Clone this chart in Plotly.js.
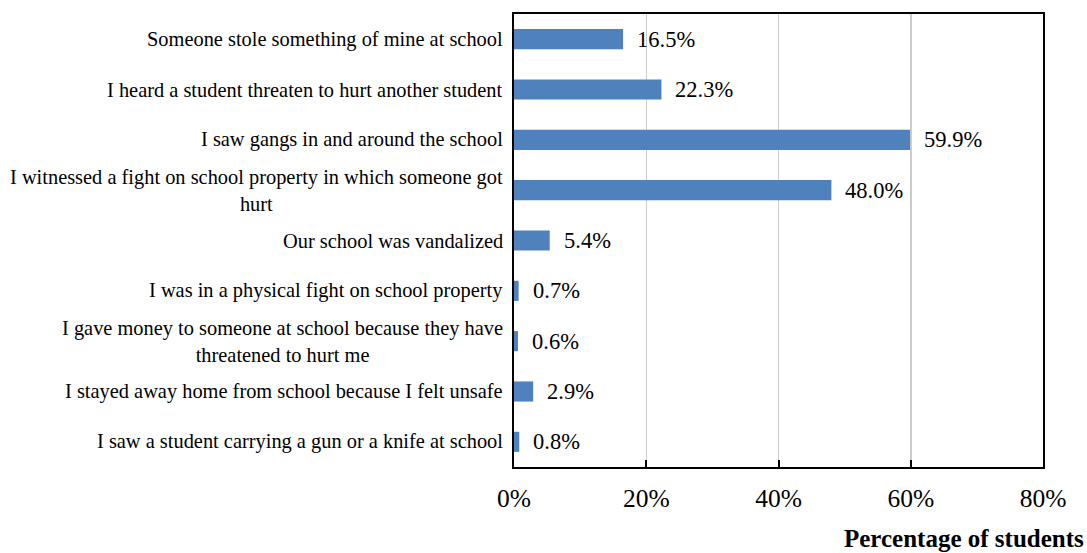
<!DOCTYPE html>
<html>
<head>
<meta charset="utf-8">
<script src="https://cdn.plot.ly/plotly-3.0.1.min.js"></script>
<style>html,body{margin:0;padding:0;background:#fff;}#chart{width:1087px;height:553px;}</style>
</head>
<body>
<div id="chart"></div>
<script>
const categories = [
  "Someone stole something of mine at school",
  "I heard a student threaten to hurt another student",
  "I saw gangs in and around the school",
  "I witnessed a fight on school property in which someone got<br>hurt",
  "Our school was vandalized",
  "I was in a physical fight on school property",
  "I gave money to someone at school because they have<br>threatened to hurt me",
  "I stayed away home from school because I felt unsafe",
  "I saw a student carrying a gun or a knife at school"
];
const values = [16.5, 22.3, 59.9, 48.0, 5.4, 0.7, 0.6, 2.9, 0.8];
const valueLabels = ["16.5%", "22.3%", "59.9%", "48.0%", "5.4%", "0.7%", "0.6%", "2.9%", "0.8%"];
const tickValues = [0, 20, 40, 60, 80];
const tickLabels = ["0%", "20%", "40%", "60%", "80%"];
const xTitle = "Percentage of students";

const FONT = "'Times New Roman', 'Liberation Serif', serif";
const ids = categories.map((c, i) => "c" + i);

const annotations = [];
categories.forEach((c, i) => {
  annotations.push({
    xref: "paper", yref: "y", x: 0, y: ids[i], xanchor: "right", yanchor: "middle",
    xshift: -9, text: c, align: "center", showarrow: false,
    font: {family: FONT, size: 20.4, color: "#000"}
  });
  annotations.push({
    xref: "x", yref: "y", x: values[i], y: ids[i], xanchor: "left", yanchor: "middle",
    xshift: 12, text: valueLabels[i], showarrow: false,
    font: {family: FONT, size: 22.5, color: "#000"}
  });
});
annotations.push({
  xref: "paper", yref: "paper", x: 1, y: 0, xanchor: "right", yanchor: "middle",
  xshift: 43, yshift: -71, text: "<b>" + xTitle + "</b>", showarrow: false,
  font: {family: FONT, size: 25, color: "#000"}
});

const trace = {
  type: "bar", orientation: "h",
  x: values, y: ids,
  width: 0.4,
  marker: {color: "#4F81BD", line: {width: 0}},
  hoverinfo: "skip"
};

const layout = {
  width: 1087, height: 553,
  margin: {l: 514, r: 44, t: 14, b: 86, pad: 0},
  paper_bgcolor: "#fff", plot_bgcolor: "#fff",
  showlegend: false,
  font: {family: FONT, color: "#000"},
  xaxis: {
    range: [0, 80], tickvals: tickValues, ticktext: tickLabels,
    showgrid: true, gridcolor: "#cccccc", gridwidth: 1.5,
    zeroline: false, showline: true, mirror: true, linecolor: "#000", linewidth: 2,
    ticks: "inside", ticklen: 7, tickwidth: 2, tickcolor: "#000",
    ticklabelstandoff: 7,
    tickfont: {family: FONT, size: 25.5, color: "#000"},
    fixedrange: true
  },
  yaxis: {
    type: "category", categoryorder: "array", categoryarray: ids,
    autorange: "reversed",
    showticklabels: false, showgrid: false, zeroline: false,
    showline: true, mirror: true, linecolor: "#000", linewidth: 2,
    ticks: "", fixedrange: true
  },
  annotations: annotations
};

Plotly.newPlot("chart", [trace], layout, {displayModeBar: false, staticPlot: true});
</script>
</body>
</html>
